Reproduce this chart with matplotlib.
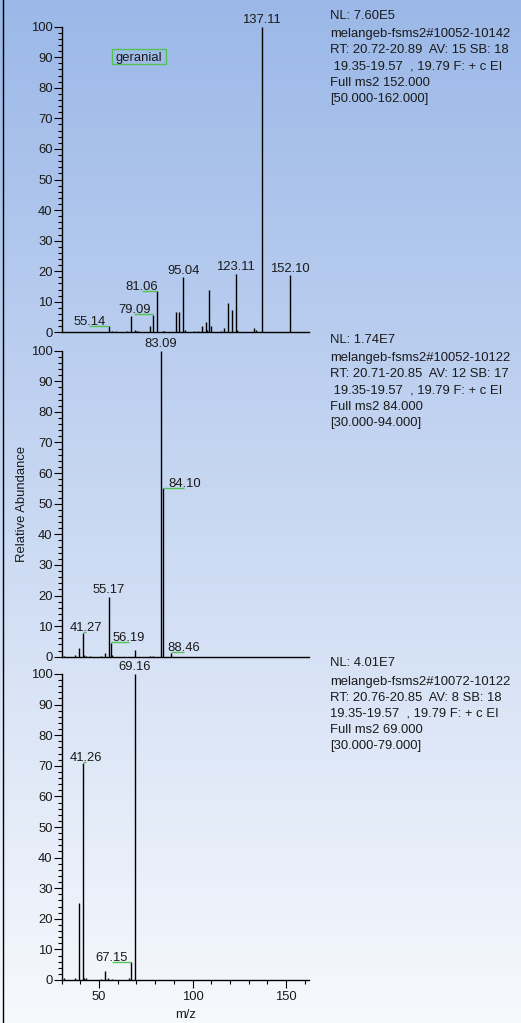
import numpy as np
import matplotlib
matplotlib.use("Agg")
import matplotlib.pyplot as plt
from matplotlib.ticker import MultipleLocator, FixedLocator
from matplotlib.patches import Rectangle
from matplotlib.lines import Line2D

plt.rcParams['font.family'] = ['Liberation Sans', 'DejaVu Sans']

# ---------------- data ----------------
# Scan 1: MS2 of m/z 152 (geranial)
mz_1 = [55.14, 57, 59, 65, 67, 69, 70, 71, 77, 79.09, 81.06, 84, 85, 91, 93,
        95.04, 96, 101, 103, 105, 107, 108, 109, 110, 115, 117, 119, 121,
        123.11, 124, 133, 134, 137.11, 152.10]
int_1 = [2.0, 0.5, 0.4, 0.3, 5.3, 0.9, 0.5, 0.4, 2.1, 5.8, 13.4, 0.4, 0.4, 6.8, 6.8,
         18.0, 0.8, 0.3, 0.4, 1.9, 3.3, 0.9, 13.9, 2.0, 0.3, 1.3, 9.7, 7.3,
         19.2, 0.8, 1.3, 0.6, 100.0, 18.7]
labels_1 = [55.14, 79.09, 81.06, 95.04, 123.11, 137.11, 152.10]

# Scan 2: MS2 of m/z 84
mz_2 = [31, 37, 39, 41.27, 42, 43, 45, 51, 53, 55.17, 56.19, 57, 69, 77, 79,
        83.09, 84.10, 88.46]
int_2 = [0.3, 0.5, 2.7, 7.8, 0.5, 0.3, 0.3, 0.3, 1.1, 19.6, 4.6, 0.5, 2.2, 0.3, 0.3,
         100.0, 55.0, 1.3]
labels_2 = [41.27, 55.17, 56.19, 83.09, 84.10, 88.46]

# Scan 3: MS2 of m/z 69
mz_3 = [31, 37, 39, 41.26, 42, 43, 51, 53, 55, 57, 66, 67.15, 69.16]
int_3 = [0.5, 0.5, 25.3, 71.0, 0.5, 0.8, 0.4, 3.0, 0.5, 0.4, 0.8, 5.8, 100.0]
labels_3 = [41.26, 67.15, 69.16]

header_1 = ["NL: 7.60E5", "melangeb-fsms2#10052-10142",
            "RT: 20.72-20.89  AV: 15 SB: 18", " 19.35-19.57  , 19.79 F: + c EI",
            "Full ms2 152.000", "[50.000-162.000]"]
header_2 = ["NL: 1.74E7", "melangeb-fsms2#10052-10122",
            "RT: 20.71-20.85  AV: 12 SB: 17", " 19.35-19.57  , 19.79 F: + c EI",
            "Full ms2 84.000", "[30.000-94.000]"]
header_3 = ["NL: 4.01E7", "melangeb-fsms2#10072-10122",
            "RT: 20.76-20.85  AV: 8 SB: 18", "19.35-19.57  , 19.79 F: + c EI",
            "Full ms2 69.000", "[30.000-79.000]"]

compound_name = "geranial"
x_ticks = [50, 100, 150]
y_ticks = list(range(0, 101, 10))

# horizontal label shift (m/z units) for labels pushed aside from their peak
label_shift_1 = {55.14: -10.3, 79.09: -10.3, 81.06: -8.3}
label_shift_2 = {41.27: 1.7, 56.19: 9.8, 84.10: 11.6, 88.46: 7.1}
label_shift_3 = {41.26: 1.6, 67.15: -10.2}

# ---------------- figure ----------------
W, H, DPI = 521, 1023, 100
fig = plt.figure(figsize=(W / DPI, H / DPI), dpi=DPI)

# vertical blue-to-white background
bg = fig.add_axes([0, 0, 1, 1], zorder=-10)
top_c = np.array([155, 184, 232]) / 255
bot_c = np.array([247, 249, 253]) / 255
t = np.linspace(0, 1, 512)[:, None]
grad = (top_c[None, :] * (1 - t) + bot_c[None, :] * t)[:, None, :]
bg.imshow(grad, aspect='auto', extent=[0, 1, 0, 1], origin='upper')
bg.axis('off')

fig.add_artist(Line2D([2.5 / W, 2.5 / W], [0, 1], color='black', lw=1.0,
                      transform=fig.transFigure))

XMIN, XMAX = 30, 162.5
left_px, right_px = 61.7, 309.3
panel_px = [(26.7, 332.3), (350.7, 656.7), (674.0, 980.0)]

GREEN = '#55c255'
FS = 9.4
TXT = '#1a1a1a'


def make_axes(top, bottom):
    ax = fig.add_axes([left_px / W, 1 - bottom / H, (right_px - left_px) / W,
                       (bottom - top) / H])
    ax.patch.set_alpha(0)
    ax.set_xlim(XMIN, XMAX)
    ax.set_ylim(0, 100)
    for s in ('top', 'right'):
        ax.spines[s].set_visible(False)
    for s in ('left', 'bottom'):
        ax.spines[s].set_linewidth(1.0)
        ax.spines[s].set_color('black')
    ax.yaxis.set_major_locator(FixedLocator(y_ticks))
    ax.yaxis.set_minor_locator(MultipleLocator(2))
    ax.tick_params(axis='y', which='major', direction='out', length=6.0,
                   width=0.8, pad=0.6, labelsize=FS, labelcolor=TXT)
    ax.tick_params(axis='y', which='minor', direction='out', length=3.2,
                   width=0.8)
    return ax


def draw_spectrum(ax, mz, inten, labels, shift):
    ax.vlines(mz, 0, inten, colors='black', lw=1.0)
    peak = dict(zip(mz, inten))
    for m in labels:
        y = peak[m]
        if m in shift:
            lx = m + shift[m]
            ax.plot([lx, m], [y + 0.2, y + 0.2], color=GREEN, lw=1.0,
                    solid_capstyle='butt', clip_on=False)
            dy = 1.5
        else:
            lx = m
            dy = 3.5
        ax.annotate(f"{m:.2f}", xy=(lx, y), xytext=(0, dy * 72 / DPI),
                    textcoords='offset points', ha='center', va='baseline',
                    fontsize=FS, color=TXT, annotation_clip=False)


def draw_header(ax, lines):
    y_top = ax.get_position().y1
    x = 330 / W
    for k, line in enumerate(lines):
        off = 11 if k == 0 else -(18.5 + 16.2 * (k - 1)) + 11
        fig.text(x, y_top + off / H, line, ha='left', va='center',
                 fontsize=FS, color=TXT)


ax1 = make_axes(*panel_px[0])
ax2 = make_axes(*panel_px[1])
ax3 = make_axes(*panel_px[2])

for ax in (ax1, ax2):
    ax.tick_params(axis='x', which='both', bottom=False, labelbottom=False)

ax3.xaxis.set_major_locator(FixedLocator(x_ticks))
ax3.xaxis.set_minor_locator(MultipleLocator(10))
ax3.tick_params(axis='x', which='major', direction='out', length=5.5,
                width=0.8, pad=2.6, labelsize=FS, labelcolor=TXT)
ax3.tick_params(axis='x', which='minor', direction='out', length=3.1,
                width=0.8)

draw_spectrum(ax1, mz_1, int_1, labels_1, label_shift_1)
draw_spectrum(ax2, mz_2, int_2, labels_2, label_shift_2)
draw_spectrum(ax3, mz_3, int_3, labels_3, label_shift_3)

draw_header(ax1, header_1)
draw_header(ax2, header_2)
draw_header(ax3, header_3)

# compound name box
bx, by, bw, bh = 0.313, 0.9025, 0.217, 0.051
ax1.add_patch(Rectangle((bx - bw / 2, by - bh / 2), bw, bh, transform=ax1.transAxes,
                        fill=False, edgecolor=GREEN, lw=1.0, clip_on=False))
ax1.text(bx, by - 0.004, compound_name, transform=ax1.transAxes, ha='center',
         va='center', fontsize=FS, color=TXT)

fig.text(21.7 / W, 1 - 503.5 / H, "Relative Abundance", rotation=90,
         ha='center', va='center', fontsize=FS, color=TXT)
fig.text(185.5 / W, 1 - 1015 / H, "m/z", ha='center', va='center',
         fontsize=FS, color=TXT)

fig.savefig("out.png", dpi=DPI)
